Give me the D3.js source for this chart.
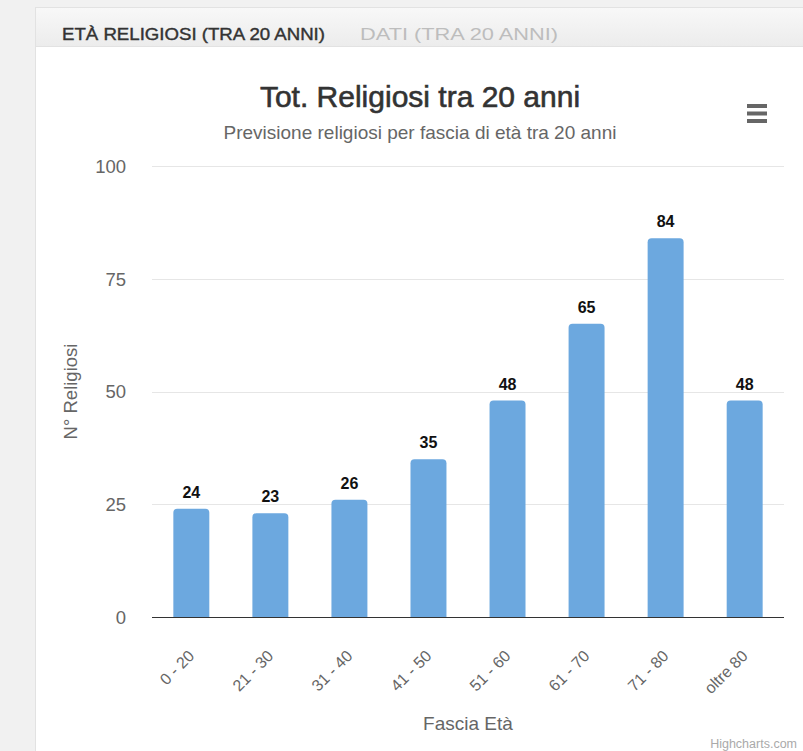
<!DOCTYPE html>
<meta charset="utf-8">
<style>
body {
  margin: 0;
  background: #f1f1f1;
  font-family: "Liberation Sans", Arial, sans-serif;
}
.grid line { stroke: #e6e6e6; }
.axis .domain { display: none; }
.axis line { display: none; }
</style>
<body>
<svg width="803" height="751"></svg>
<script src="https://d3js.org/d3.v7.min.js"></script>
<script>

var categories = ["0 - 20", "21 - 30", "31 - 40", "41 - 50", "51 - 60", "61 - 70", "71 - 80", "oltre 80"];
var values = [24, 23, 26, 35, 48, 65, 84, 48];
var yTicks = [0, 25, 50, 75, 100];

var svg = d3.select("svg"),
    margin = {top: 166, right: 19, bottom: 134, left: 152},
    width = +svg.attr("width"),
    height = +svg.attr("height");

// card + tab bar
var defs = svg.append("defs");
var grad = defs.append("linearGradient").attr("id", "tabgrad")
    .attr("x1", 0).attr("y1", 0).attr("x2", 0).attr("y2", 1);
grad.append("stop").attr("offset", "0%").attr("stop-color", "#f8f8f8");
grad.append("stop").attr("offset", "100%").attr("stop-color", "#ececec");

svg.append("rect")
    .attr("x", 35.5).attr("y", 7.5)
    .attr("width", 780).attr("height", 760)
    .attr("fill", "#fff")
    .attr("stroke", "#e2e2e2");

svg.append("rect")
    .attr("x", 35.5).attr("y", 7.5)
    .attr("width", 780).attr("height", 39)
    .attr("fill", "url(#tabgrad)")
    .attr("stroke", "#e2e2e2");

svg.append("text")
    .attr("x", 62).attr("y", 40)
    .attr("font-size", 17)
    .attr("fill", "#333")
    .attr("stroke", "#333")
    .attr("stroke-width", 0.4)
    .attr("textLength", 263)
    .attr("lengthAdjust", "spacingAndGlyphs")
    .text("ETÀ RELIGIOSI (TRA 20 ANNI)");

svg.append("text")
    .attr("x", 360).attr("y", 40)
    .attr("font-size", 17)
    .attr("fill", "#bdbdbd")
    .attr("textLength", 198)
    .attr("lengthAdjust", "spacingAndGlyphs")
    .text("DATI (TRA 20 ANNI)");

// titles
svg.append("text")
    .attr("x", 420).attr("y", 107)
    .attr("text-anchor", "middle")
    .attr("font-size", 30)
    .attr("fill", "#333")
    .attr("stroke", "#333")
    .attr("stroke-width", 0.6)
    .text("Tot. Religiosi tra 20 anni");

svg.append("text")
    .attr("x", 420).attr("y", 139)
    .attr("text-anchor", "middle")
    .attr("font-size", 19)
    .attr("fill", "#666")
    .text("Previsione religiosi per fascia di età tra 20 anni");

// menu icon
svg.append("g").selectAll("rect")
    .data([0, 1, 2])
    .join("rect")
      .attr("x", 747).attr("y", function(d) { return 104 + d * 7.5; })
      .attr("width", 20).attr("height", 4)
      .attr("fill", "#666");

var x = d3.scaleBand()
    .domain(categories)
    .range([margin.left, width - margin.right])
    .paddingInner(0.545)
    .paddingOuter(0.27);

var y = d3.scaleLinear()
    .domain([0, 100])
    .range([height - margin.bottom, margin.top]);

// grid
svg.append("g")
    .attr("class", "grid")
  .selectAll("line")
  .data(yTicks.slice(1))
  .join("line")
    .attr("x1", margin.left).attr("x2", width - margin.right)
    .attr("y1", function(d) { return Math.round(y(d)) + 0.5; })
    .attr("y2", function(d) { return Math.round(y(d)) + 0.5; });

// y axis labels
svg.append("g")
    .attr("class", "axis")
    .attr("transform", "translate(" + (margin.left - 26) + ",0)")
    .call(d3.axisLeft(y).tickValues(yTicks).tickSize(0).tickPadding(0))
    .call(function(g) {
      g.selectAll("text")
        .attr("font-family", "'Liberation Sans', Arial, sans-serif")
        .attr("font-size", 18.5)
        .attr("fill", "#666")
        .attr("dy", "0.35em");
    });

svg.append("text")
    .attr("transform", "translate(77," + y(50) + ") rotate(-90)")
    .attr("text-anchor", "middle")
    .attr("font-size", 18.5)
    .attr("fill", "#666")
    .text("N° Religiosi");

// bars with rounded tops
function barPath(d, i) {
  var x0 = x(categories[i]), w = x.bandwidth(),
      top = y(d), bottom = y(0), r = 4;
  return "M" + x0 + "," + bottom +
    "V" + (top + r) +
    "Q" + x0 + "," + top + " " + (x0 + r) + "," + top +
    "H" + (x0 + w - r) +
    "Q" + (x0 + w) + "," + top + " " + (x0 + w) + "," + (top + r) +
    "V" + bottom + "Z";
}

svg.append("g")
  .selectAll("path")
  .data(values)
  .join("path")
    .attr("d", barPath)
    .attr("fill", "#6ca8df");

// data labels
svg.append("g")
  .selectAll("text")
  .data(values)
  .join("text")
    .attr("x", function(d, i) { return x(categories[i]) + x.bandwidth() / 2; })
    .attr("y", function(d) { return y(d) - 11; })
    .attr("text-anchor", "middle")
    .attr("font-size", 16)
    .attr("font-weight", "bold")
    .attr("fill", "#111")
    .text(function(d) { return d; });

// x axis line
svg.append("line")
    .attr("x1", margin.left).attr("x2", width - margin.right)
    .attr("y1", y(0) + 0.5).attr("y2", y(0) + 0.5)
    .attr("stroke", "#333");

// x labels
svg.append("g")
  .selectAll("text")
  .data(categories)
  .join("text")
    .attr("transform", function(d) {
      return "translate(" + (x(d) + x.bandwidth() / 2 + 4) + "," + (y(0) + 40) + ") rotate(-45)";
    })
    .attr("text-anchor", "end")
    .attr("font-size", 16)
    .attr("fill", "#666")
    .text(function(d) { return d; });

svg.append("text")
    .attr("x", 468).attr("y", 730)
    .attr("text-anchor", "middle")
    .attr("font-size", 19)
    .attr("fill", "#666")
    .text("Fascia Età");

svg.append("text")
    .attr("x", 797).attr("y", 748)
    .attr("text-anchor", "end")
    .attr("font-size", 12.5)
    .attr("fill", "#aaa")
    .text("Highcharts.com");

</script>
</body>
